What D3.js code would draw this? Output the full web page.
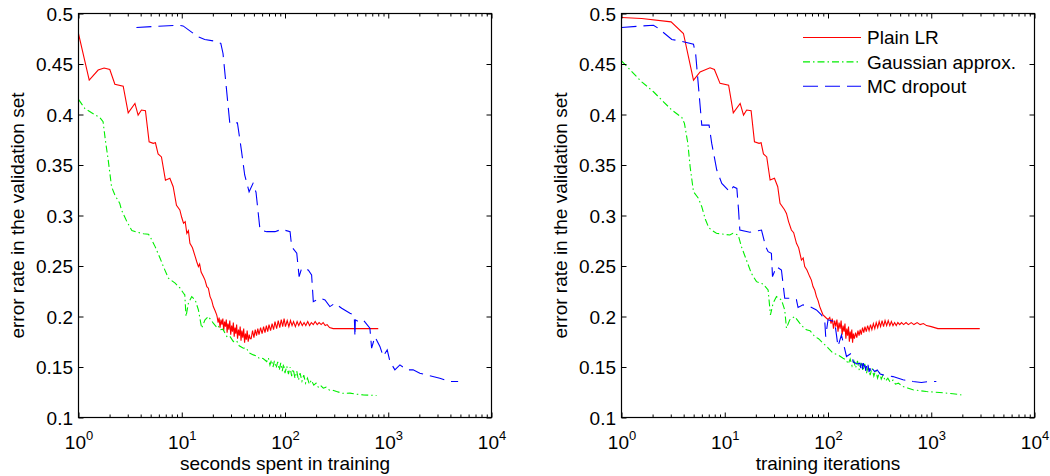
<!DOCTYPE html>
<html>
<head>
<meta charset="utf-8">
<script src="https://cdn.jsdelivr.net/npm/d3@7"></script>
<style>
  body { margin: 0; background: #fff; }
  text { font-family: "Liberation Sans", Arial, Helvetica, sans-serif; }
</style>
</head>
<body>
<script>
// ---- data: [x, error rate] pairs ----
// left panel, x = seconds spent in training
var secPlainLR = [[1,0.480],[1.27,0.434],[1.55,0.444],[1.77,0.446],[2.01,0.4446],[2.25,0.430],[2.71,0.428],
  [3.03,0.4017],[3.52,0.411],[3.78,0.3994],[4.07,0.4044],[4.45,0.4037],[4.83,0.373],[5.29,0.3714],[5.56,0.372],
  [5.9,0.361],[6.36,0.358],[6.95,0.335],[7.67,0.3368],[8.26,0.3285],[8.89,0.31],[9.58,0.3055],[10.0,0.298],
  [10.4,0.2923],[10.8,0.294],[11.2,0.2824],[11.6,0.285],[12.0,0.2725],[12.7,0.268],[13.5,0.2593],[14.0,0.254],
  [14.5,0.2494],[14.9,0.252],[15.4,0.244],[16.2,0.2395],[16.8,0.236],[17.5,0.2296],[18.1,0.228],[18.8,0.2197],
  [19.5,0.216],[20.2,0.2098],[21.0,0.206],[21.8,0.2016],[22,0.200],[22.5,0.194],[23,0.199],[23.5,0.189],
  [24,0.197],[24.5,0.192],[25,0.198],[25.5,0.186],[26,0.195],[26.5,0.190],[27,0.197],[27.5,0.184],[28,0.193],
  [28.6,0.187],[29.2,0.196],[29.8,0.182],[30.4,0.191],[31,0.185],[31.6,0.194],[32.2,0.180],[32.8,0.189],
  [33.4,0.183],[34,0.192],[34.7,0.178],[35.4,0.187],[36.1,0.181],[36.8,0.190],[37.5,0.176],[38.2,0.186],
  [39,0.179],[39.8,0.188],[40.6,0.174],[41.4,0.183],[42.2,0.177],[43,0.186],[44,0.175],[45,0.182],[46,0.178],
  [47,0.178],[48.5,0.186],[50,0.179],[51.5,0.187],[53,0.181],[54.5,0.188],[56,0.182],[58,0.189],[60,0.183],
  [62,0.190],[64,0.184],[66,0.191],[68,0.185],[70,0.192],[72.5,0.186],[75,0.193],[77.5,0.187],[80,0.195],
  [83,0.188],[86,0.196],[89,0.189],[92,0.197],[95,0.190],[98,0.198],[101,0.190],[105,0.196],[109,0.190],
  [113,0.196],[117,0.191],[121,0.195],[126,0.190],[131,0.195],[136,0.191],[141,0.195],[147,0.191],[153,0.194],
  [159,0.191],[166,0.195],[173,0.191],[180,0.194],[188,0.192],[196,0.195],[205,0.192],[214,0.194],[224,0.192],
  [234,0.194],[245,0.191],[256,0.192],[270,0.189],[293,0.188],[800,0.188]];

var secGauss = [[1,0.415],[1.15,0.406],[1.34,0.4017],[1.61,0.397],[1.73,0.3928],[1.82,0.3747],[1.94,0.3549],
  [2.09,0.3285],[2.25,0.3203],[2.51,0.312],[2.61,0.3054],[2.94,0.294],[3.29,0.285],[3.67,0.2835],[4.25,0.282],
  [4.76,0.2815],[4.94,0.279],[5.52,0.2692],[6.17,0.2577],[6.64,0.2494],[7.43,0.2379],[8.63,0.233],[9.64,0.228],
  [10.4,0.223],[10.7,0.2215],[11.0,0.200],[11.6,0.2132],[12.5,0.2197],[13.5,0.2164],[14.5,0.2065],[15.6,0.1884],
  [16.8,0.1967],[18.1,0.200],[20.2,0.1934],[21.5,0.190],[22.5,0.1915],[23.5,0.1868],[25,0.1875],[27.3,0.1802],
  [29,0.181],[31.6,0.1752],[34,0.176],[36,0.171],[39.5,0.1686],[42,0.169],[45,0.164],[49.4,0.162],[53,0.161],
  [57,0.158],[61,0.1585],[66.5,0.1554],[69,0.159],[71.5,0.152],[74,0.157],[76.5,0.150],[79,0.156],[82,0.149],
  [85,0.155],[88,0.147],[91,0.154],[94,0.146],[97,0.153],[100,0.144],[104,0.151],[108,0.143],[112,0.150],
  [116,0.141],[120,0.148],[125,0.139],[130,0.146],[135,0.137],[140,0.144],[146,0.136],[152,0.142],[158,0.134],
  [165,0.139],[172,0.133],[180,0.137],[190,0.132],[200,0.134],[210,0.130],[220,0.132],[235,0.129],[250,0.130],
  [270,0.127],[290,0.127],[316,0.1257],[360,0.124],[426,0.1241],[500,0.123],[572,0.1224],[770,0.1218]];

var secDropout = [[3.64,0.4862],[9.22,0.4884],[10.3,0.4877],[14.4,0.4769],[16.7,0.4743],[20.9,0.4726],
  [23.9,0.4703],[25.1,0.4604],[29.2,0.3912],[34.6,0.3918],[37.8,0.3648],[40.7,0.3401],[44.9,0.3235],
  [49,0.3318],[52.4,0.323],[57.3,0.2856],[66.5,0.284],[80,0.284],[92.9,0.2863],[112,0.284],[116,0.2692],
  [130,0.2626],[137,0.2395],[145,0.2477],[168,0.246],[181,0.2412],[188,0.2147],[218,0.2181],[244,0.2164],
  [272,0.2098],[305,0.2131],[354,0.2082],[426,0.2032],[465,0.2016],[470,0.1967],[476,0.180],[480,0.1967],
  [512,0.195],[572,0.1967],[664,0.1884],[690,0.1686],[743,0.180],[830,0.1704],[894,0.1605],[977,0.167],
  [1038,0.1555],[1159,0.1472],[1297,0.1521],[1506,0.1472],[1742,0.1472],[2023,0.1439],[2350,0.1422],
  [3160,0.1389],[3955,0.1356],[4750,0.1356]];

// right panel, x = training iterations
var iterPlainLR = [[1,0.496],[1.57,0.495],[3.02,0.4917],[3.98,0.4802],[4.98,0.434],[5.77,0.4422],[7.2,0.4462],
  [7.94,0.4446],[9.0,0.4308],[10.9,0.4291],[12.1,0.4017],[14.1,0.411],[15.2,0.3994],[16.3,0.4044],[18,0.4037],
  [19.4,0.373],[21.5,0.3714],[22.5,0.372],[23.7,0.361],[25.5,0.358],[27.5,0.3351],[30.3,0.3368],[32.6,0.3285],
  [34.3,0.312],[37.8,0.306],[39.6,0.302],[41.5,0.294],[44.2,0.2856],[46.5,0.283],[49.5,0.2725],[52,0.268],
  [55.3,0.2559],[57.5,0.258],[59.5,0.2494],[62.5,0.246],[66.5,0.2395],[69,0.236],[71.6,0.2296],[74.5,0.226],
  [77.3,0.2197],[80,0.216],[83.2,0.2098],[86,0.206],[89.5,0.2016],[95,0.199],[100,0.197],[104,0.199],
  [107,0.193],[110,0.198],[113,0.188],[116,0.196],[119,0.190],[122,0.197],[125,0.185],[128,0.194],[131,0.188],
  [134,0.196],[137,0.182],[140,0.191],[143,0.185],[146,0.193],[149,0.178],[152,0.188],[155,0.181],[158,0.190],
  [161,0.175],[164,0.185],[167,0.178],[170,0.187],[173,0.174],[176,0.183],[180,0.178],[185,0.184],[190,0.179],
  [195,0.186],[200,0.181],[205,0.187],[210,0.182],[216,0.189],[222,0.184],[228,0.190],[235,0.185],[242,0.191],
  [250,0.186],[258,0.192],[266,0.187],[275,0.193],[284,0.188],[293,0.194],[303,0.189],[313,0.195],[323,0.190],
  [334,0.196],[345,0.190],[357,0.196],[370,0.191],[383,0.196],[397,0.191],[411,0.195],[426,0.191],[442,0.194],
  [458,0.191],[475,0.194],[495,0.192],[515,0.194],[540,0.192],[570,0.194],[600,0.192],[640,0.194],[680,0.192],
  [730,0.194],[780,0.192],[840,0.193],[900,0.191],[1000,0.190],[1160,0.188],[2950,0.188]];

var iterGauss = [[1,0.4531],[1.57,0.4323],[2.04,0.4225],[2.55,0.4126],[3.07,0.4044],[3.84,0.3971],[4.07,0.3912],
  [4.39,0.3714],[4.62,0.3483],[4.98,0.3235],[5.56,0.317],[5.99,0.3087],[6.5,0.296],[7.0,0.288],[7.43,0.2857],
  [8.31,0.2824],[11.2,0.2807],[12.0,0.2824],[13.5,0.2807],[14.5,0.2692],[16.2,0.256],[18.1,0.2428],
  [20.3,0.2345],[23.5,0.2322],[26.3,0.2263],[27.7,0.2016],[29.4,0.2131],[31.7,0.2197],[35.4,0.2164],
  [38.1,0.2065],[39.6,0.1884],[42.6,0.1967],[47.6,0.200],[53.2,0.1934],[57,0.190],[61.8,0.1868],[67,0.186],
  [74.3,0.1802],[81,0.178],[89.5,0.1736],[100,0.169],[112,0.1637],[125,0.162],[140,0.1587],[150,0.157],
  [157,0.153],[164,0.158],[171,0.151],[178,0.156],[185,0.149],[193,0.156],[201,0.147],[209,0.154],[218,0.146],
  [227,0.153],[236,0.144],[246,0.151],[256,0.142],[267,0.149],[278,0.141],[290,0.147],[302,0.139],[315,0.145],
  [328,0.138],[341,0.142],[360,0.136],[380,0.139],[400,0.135],[426,0.137],[450,0.133],[480,0.134],
  [532,0.1307],[600,0.129],[665,0.1274],[897,0.1257],[1205,0.1248],[1622,0.1235],[1955,0.1224]];

var iterDropout = [[1,0.4862],[2.04,0.4884],[2.28,0.4852],[3.07,0.4743],[3.69,0.4729],[4.98,0.4696],
  [5.24,0.4588],[5.99,0.3895],[7.05,0.3895],[7.48,0.3714],[8.37,0.345],[9.36,0.3318],[11.2,0.3235],
  [12.1,0.3285],[13.1,0.3268],[13.6,0.3054],[14.0,0.2856],[17.5,0.2834],[22.7,0.2856],[24.9,0.2692],
  [26.3,0.2642],[28.3,0.2626],[29.0,0.2395],[31.7,0.2494],[35.4,0.246],[38.1,0.2181],[42.6,0.2181],
  [49.4,0.2168],[51.3,0.2089],[57.3,0.2115],[66.5,0.2098],[77.3,0.2065],[86.3,0.2016],[92.9,0.1967],
  [95,0.180],[100,0.1967],[116,0.195],[125,0.1703],[135,0.1818],[151,0.1604],[169,0.1637],[175,0.1554],
  [190,0.153],[203,0.1538],[208,0.149],[212,0.155],[216,0.148],[220,0.154],[224,0.147],[228,0.152],
  [232,0.146],[236,0.151],[240,0.147],[244,0.1521],[250,0.145],[255,0.149],[260,0.145],[265,0.149],
  [283,0.1455],[300,0.147],[320,0.143],[341,0.1422],[426,0.1405],[532,0.1373],[665,0.1356],[802,0.1346],
  [929,0.1356],[1120,0.1356]];

var seriesNames = ['Plain LR', 'Gaussian approx.', 'MC dropout'];
var seriesColors = ['#ff0000', '#00ee00', '#0000ff'];
var seriesDash = [null, '7,3,1.5,3', '15,7'];
var xTickExps = [0, 1, 2, 3, 4];
var xMajor = [1, 10, 100, 1000, 10000];
var yTicks = [0.1, 0.15, 0.2, 0.25, 0.3, 0.35, 0.4, 0.45, 0.5];

var W = 1050, H = 476;
var plotTop = 13.5, plotBottom = 417.5;

var svg = d3.select('body').append('svg')
  .attr('width', W)
  .attr('height', H);

svg.append('rect').attr('width', W).attr('height', H).attr('fill', '#fff');

var panels = [
  { left: 78.5, right: 491.5, xlabel: 'seconds spent in training',
    data: [secPlainLR, secGauss, secDropout], legend: false },
  { left: 621.5, right: 1034.5, xlabel: 'training iterations',
    data: [iterPlainLR, iterGauss, iterDropout], legend: true }
];

panels.forEach(function(p, pi) {
  var x = d3.scaleLog().domain([1, 1e4]).range([p.left, p.right]);
  var y = d3.scaleLinear().domain([0.1, 0.5]).range([plotBottom, plotTop]);
  var g = svg.append('g');

  // clip so lines stay in the box
  g.append('clipPath').attr('id', 'clip' + pi)
    .append('rect')
    .attr('x', p.left).attr('y', plotTop)
    .attr('width', p.right - p.left).attr('height', plotBottom - plotTop);

  var line = d3.line()
    .x(function(d) { return x(d[0]); })
    .y(function(d) { return y(d[1]); });

  p.data.forEach(function(s, i) {
    g.append('path')
      .datum(s)
      .attr('clip-path', 'url(#clip' + pi + ')')
      .attr('d', line)
      .attr('fill', 'none')
      .attr('stroke', seriesColors[i])
      .attr('stroke-width', 1.1)
      .attr('stroke-dasharray', seriesDash[i]);
  });

  var minor = x.ticks().filter(function(v) { return xMajor.indexOf(v) < 0; });

  // bottom axis
  var gb = g.append('g').attr('transform', 'translate(0,' + plotBottom + ')')
    .call(d3.axisBottom(x).tickValues(xMajor).tickSize(-5).tickSizeOuter(0));
  gb.selectAll('.tick text').each(function(d, i) {
    var t = d3.select(this).attr('y', 31).attr('dy', null)
      .attr('fill', '#000').style('font-size', '19px').text('10');
    t.append('tspan').attr('dy', -9).style('font-size', '13px').text(xTickExps[i]);
  });
  g.append('g').attr('transform', 'translate(0,' + plotBottom + ')')
    .call(d3.axisBottom(x).tickValues(minor).tickSize(-3).tickSizeOuter(0).tickFormat(''));

  // top axis
  g.append('g').attr('transform', 'translate(0,' + plotTop + ')')
    .call(d3.axisTop(x).tickValues(xMajor).tickSize(-5).tickSizeOuter(0).tickFormat(''));
  g.append('g').attr('transform', 'translate(0,' + plotTop + ')')
    .call(d3.axisTop(x).tickValues(minor).tickSize(-3).tickSizeOuter(0).tickFormat(''));

  // left axis
  var gl = g.append('g').attr('transform', 'translate(' + p.left + ',0)')
    .call(d3.axisLeft(y).tickValues(yTicks).tickSize(-5).tickSizeOuter(0).tickPadding(5.5)
      .tickFormat(function(d) { return String(+d.toFixed(2)); }));
  gl.selectAll('.tick text').attr('fill', '#000').style('font-size', '19px').attr('dy', '0.36em');

  // right axis
  g.append('g').attr('transform', 'translate(' + p.right + ',0)')
    .call(d3.axisRight(y).tickValues(yTicks).tickSize(-5).tickSizeOuter(0).tickFormat(''));

  g.selectAll('.domain').remove();
  g.selectAll('.tick line').attr('stroke', '#000');

  // box
  g.append('rect')
    .attr('x', p.left).attr('y', plotTop)
    .attr('width', p.right - p.left).attr('height', plotBottom - plotTop)
    .attr('fill', 'none').attr('stroke', '#000').attr('stroke-width', 1.2);

  // axis labels
  g.append('text')
    .attr('x', (p.left + p.right) / 2).attr('y', 470)
    .attr('text-anchor', 'middle').style('font-size', '19px').attr('fill', '#000')
    .text(p.xlabel);
  g.append('text')
    .attr('transform', 'translate(' + (p.left - 54.5) + ',' + ((plotTop + plotBottom) / 2) + ') rotate(-90)')
    .attr('text-anchor', 'middle').style('font-size', '19px').attr('fill', '#000')
    .text('error rate in the validation set');

  if (p.legend) {
    var lg = g.append('g');
    seriesNames.forEach(function(name, i) {
      var ly = 37.5 + i * 24.4;
      lg.append('line')
        .attr('x1', 803).attr('x2', 861).attr('y1', ly).attr('y2', ly)
        .attr('stroke', seriesColors[i]).attr('stroke-width', 1.1)
        .attr('stroke-dasharray', seriesDash[i]);
      lg.append('text')
        .attr('x', 867).attr('y', ly + 6.8)
        .style('font-size', '19px').attr('fill', '#000')
        .text(name);
    });
  }
});
</script>
</body>
</html>
